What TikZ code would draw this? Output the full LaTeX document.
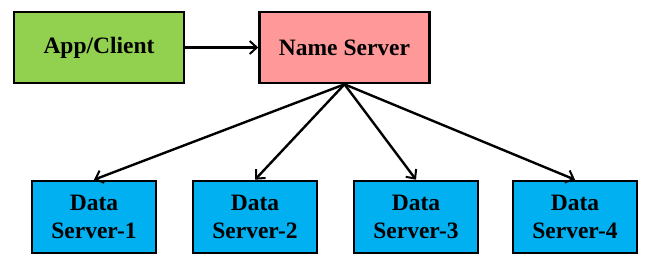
\documentclass[tikz,border=0pt]{standalone}
\usepackage{fontspec}
\setmainfont{Liberation Serif}
\usetikzlibrary{arrows.meta,positioning}
\definecolor{clientgreen}{HTML}{92D050}
\definecolor{nspink}{HTML}{FF9999}
\definecolor{dsblue}{HTML}{00B0F0}

\begin{document}
\begin{tikzpicture}[
  x=1pt,y=-1pt,
  font=\fontsize{23.5}{28.3}\selectfont\bfseries,
  box/.style={draw=black,line width=2.6pt,minimum width=170pt,minimum height=71pt,align=center,inner sep=0pt},
  client/.style={box,fill=clientgreen},
  ns/.style={box,fill=nspink},
  ds/.style={box,fill=dsblue,minimum width=124pt,minimum height=72pt},
  link/.style={-{Straight Barb[length=7pt,width=13pt,line width=2pt]},line width=2.4pt}
]
  \useasboundingbox (0,0) rectangle (649,265);

  \node[client] (app) at (99,47.5) {App/Client};
  \node[ns] (name) at (344.5,47.5) {Name Server};

  \node[ds] (ds1) at (94,217) {Data\\Server-1};
  \node[ds] (ds2) at (255,217) {Data\\Server-2};
  \node[ds] (ds3) at (416,217) {Data\\Server-3};
  \node[ds] (ds4) at (575,217) {Data\\Server-4};

  \draw[link] (app) -- (name);
  \draw[link] (name.south) -- (ds1.north);
  \draw[link] (name.south) -- (ds2.north);
  \draw[link] (name.south) -- (ds3.north);
  \draw[link] (name.south) -- (ds4.north);
\end{tikzpicture}
\end{document}
